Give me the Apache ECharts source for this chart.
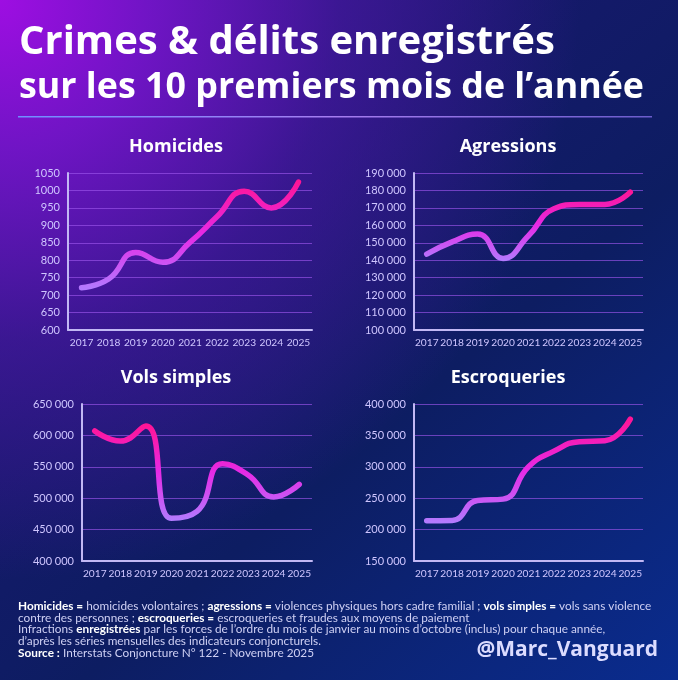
<!DOCTYPE html>
<html>
<head>
<meta charset="utf-8">
<script src="https://cdn.jsdelivr.net/npm/echarts@6/dist/echarts.min.js"></script>
<style>
html,body{margin:0;padding:0;}
#c{width:678px;height:680px;
background:
 radial-gradient(circle at 0 0, rgba(158,14,226,1) 0px, rgba(120,20,205,0.9) 150px, rgba(85,22,175,0.55) 340px, rgba(50,20,140,0) 580px),
 linear-gradient(140deg, #28167e 0%, #15196a 35%, #0d1d62 60%, #0a2c8e 100%);}
</style>
</head>
<body>
<div id="c"></div>
<script>
// ---- data ----
const years = ['2017','2018','2019','2020','2021','2022','2023','2024','2025'];
const homicides = [721, 746, 822, 794, 851, 925, 998, 950, 1024];
const agressions = [143500, 150500, 155000, 141000, 154000, 169500, 172000, 172000, 179000];
const volsSimples = [607000, 591000, 615000, 468000, 479000, 555000, 537000, 502000, 522000];
const escroqueries = [214000, 214500, 246500, 248500, 300000, 325000, 340000, 341500, 376000];

const homicidesTicks = [600, 650, 700, 750, 800, 850, 900, 950, 1000, 1050];
const agressionsTicks = [100000, 110000, 120000, 130000, 140000, 150000, 160000, 170000, 180000, 190000];
const volsTicks = [400000, 450000, 500000, 550000, 600000, 650000];
const escroqueriesTicks = [150000, 200000, 250000, 300000, 350000, 400000];

const panelTitles = ['Homicides', 'Agressions', 'Vols simples', 'Escroqueries'];
const titleLine1 = 'Crimes & délits enregistrés';
const titleLine2 = 'sur les 10 premiers mois de l\u2019année';
const footerLines = [
  '{b|Homicides =} homicides volontaires ; {b|agressions =} violences physiques hors cadre familial ; {b|vols simples =} vols sans violence',
  'contre des personnes ; {b|escroqueries =} escroqueries et fraudes aux moyens de paiement',
  'Infractions {b|enregistrées} par les forces de l\u2019ordre du mois de janvier au moins d\u2019octobre (inclus) pour chaque année,',
  'd\u2019après les séries mensuelles des indicateurs conjoncturels.',
  '{b|Source :} Interstats Conjoncture N° 122 - Novembre 2025'
];
const signature = '@Marc_Vanguard';

// ---- chart ----
const FONT = 'Lato, "Open Sans", sans-serif';
const HFONT = '"Open Sans", Lato, sans-serif';
const chart = echarts.init(document.getElementById('c'), null, {renderer:'canvas'});

const datasets = [homicides, agressions, volsSimples, escroqueries];
const ticks = [homicidesTicks, agressionsTicks, volsTicks, escroqueriesTicks];
const grids = [
  {left:68, right:366, top:173, bottom:350},
  {left:414, right:35, top:173, bottom:350},
  {left:82, right:366, top:404, bottom:119},
  {left:414, right:35, top:404, bottom:119}
];
const titleCenters = [[176,147],[508,147],[176,378],[508,378]];

function fmt(v){
  const s = String(v);
  if (v < 10000) return s;
  return s.replace(/\B(?=(\d{3})+(?!\d))/g, '\u202f');
}

const lineGrad = new echarts.graphic.LinearGradient(0,0,0,1,[
  {offset:0, color:'#ff1493'},
  {offset:0.5, color:'#e62ae6'},
  {offset:1, color:'#b27cff'}
]);

const option = {
  animation:false,
  backgroundColor:'transparent',
  grid: grids.map(g => Object.assign({containLabel:false}, g)),
  xAxis: grids.map((g,i) => ({
    type:'category', gridIndex:i, data:years, boundaryGap:true,
    axisLine:{show:true, lineStyle:{color:'#c2b8f4', width:2}},
    axisTick:{show:false},
    axisLabel:{color:'#cfc6ff', fontSize:10.2, fontFamily:FONT, interval:0, margin:8}
  })),
  yAxis: grids.map((g,i) => {
    const t = ticks[i];
    return {
      type:'value', gridIndex:i, min:t[0], max:t[t.length-1], interval:t[1]-t[0],
      axisLine:{show:true, lineStyle:{color:'#c2b8f4', width:2}},
      axisTick:{show:false},
      splitLine:{show:true, lineStyle:{color:'rgba(155,85,235,0.65)', width:1}},
      axisLabel:{color:'#cfc6ff', fontSize:11, fontFamily:FONT, margin:8, formatter:fmt}
    };
  }),
  series: datasets.map((d,i) => ({
    type:'line', xAxisIndex:i, yAxisIndex:i, data:d, smooth:0.5,
    symbol:'none',
    lineStyle:{width:5.5, color:lineGrad, cap:'round', join:'round'}
  })),
  graphic: [
    {type:'text', left:19, top:23, style:{text:titleLine1, fill:'#ffffff', font:'bold 40px '+HFONT}},
    {type:'text', left:19, top:70, style:{text:titleLine2, fill:'#ffffff', font:'bold 35.8px '+HFONT}},
    {type:'rect', shape:{x:18, y:116, width:634, height:1.5},
     style:{fill:new echarts.graphic.LinearGradient(0,0,1,0,[
       {offset:0, color:'#6f8fff'},{offset:0.5, color:'#a57cf0'},{offset:1, color:'#6b5ccc'}])}}
  ].concat(panelTitles.map((t,i)=>({
    type:'text', x:titleCenters[i][0], y:titleCenters[i][1],
    style:{text:t, fill:'#ffffff', font:'bold 18px '+HFONT, align:'center', verticalAlign:'middle'}
  }))).concat(footerLines.map((l,i)=>({
    type:'text', x:18, y:606 + i*11.8,
    style:{text:l, fill:'#cfd0f4', font:'11.8px '+FONT, verticalAlign:'middle',
      rich:{b:{fill:'#ffffff', fontWeight:'bold', fontSize:11.8, fontFamily:FONT}}}
  }))).concat([
    {type:'text', x:658, y:650, style:{text:signature, fill:'#dcdcff', font:'bold 21px '+HFONT, align:'right', verticalAlign:'middle'}}
  ])
};
chart.setOption(option);
</script>
</body>
</html>
